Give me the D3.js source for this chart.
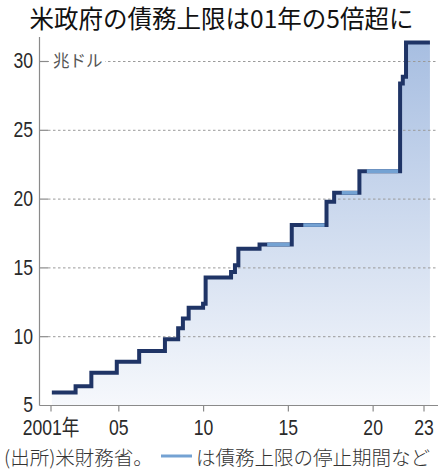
<!DOCTYPE html>
<html><head><meta charset="utf-8">
<script src="https://cdn.jsdelivr.net/npm/d3@7"></script>
<style>
html,body{margin:0;padding:0;background:#fff;}
svg{display:block;}
</style></head>
<body>
<svg id="c" width="443" height="474"></svg>
<script>
// ---- data (trillion dollars) ----
const stepYears  = [2001.05, 2002.45, 2003.38, 2004.88, 2006.2, 2007.72, 2008.5, 2008.78, 2009.12, 2009.97, 2010.12, 2011.62, 2011.85, 2012.05, 2013.3, 2015.2, 2017.25, 2017.7, 2019.19, 2021.59, 2021.75, 2021.94];
const stepLimits = [5.95, 6.4, 7.384, 8.184, 8.965, 9.815, 10.615, 11.315, 12.104, 12.394, 14.294, 14.694, 15.194, 16.394, 16.699, 18.113, 19.809, 20.456, 22.03, 28.4, 28.9, 31.381];
const endYear = 2023.35;
const pauseStart = [2013.75, 2015.88, 2018.15, 2019.63];
const pauseEnd   = [2015.2, 2017.25, 2019.19, 2021.59];
const yTicks = [5, 10, 15, 20, 25, 30];
const xTicks = [2001, 2005, 2010, 2015, 2020, 2023];
const xTickLabels = ["2001年", "05", "10", "15", "20", "23"];
const titleText = "米政府の債務上限は01年の5倍超に";
const unitText = "兆ドル";
const sourceText = "(出所)米財務省。";
const legendText = "は債務上限の停止期間など";

const svg = d3.select("#c");
const x = d3.scaleLinear().domain([2001, 2023]).range([51, 424]);
const y = d3.scaleLinear().domain([5, 30]).range([405.5, 61.5]);
const numFont = "'Liberation Sans',Arial,sans-serif";
const jpFont = "'Noto Sans CJK JP','Noto Sans',sans-serif";
const dark = "#1f3466", light = "#74a2d3", axisCol = "#8a8a8a";
const xLeft = 39.5, xRight = 438;
const squeeze = 0.8;

// gradient
const defs = svg.append("defs");
const g = defs.append("linearGradient").attr("id","fillg").attr("gradientUnits","userSpaceOnUse")
  .attr("x1",0).attr("x2",0).attr("y1",y(31.4)).attr("y2",y(5));
g.append("stop").attr("offset",0).attr("stop-color","#a7bee1");
g.append("stop").attr("offset",1).attr("stop-color","#f6f8fc");

// points
const pts = stepYears.map((yr,i)=>[yr, stepLimits[i]]);
pts.push([endYear, stepLimits[stepLimits.length-1]]);

// area
svg.append("path").datum(pts)
  .attr("d", d3.area().curve(d3.curveStepAfter).x(d=>x(d[0])).y0(y(5)).y1(d=>y(d[1])))
  .attr("fill","url(#fillg)");

// y axis gridlines
yTicks.filter(t=>t>5).forEach(t=>{
  svg.append("line").attr("x1",48).attr("x2",xRight).attr("y1",y(t)).attr("y2",y(t))
    .attr("stroke","#9a9a9a").attr("stroke-width",1).attr("stroke-dasharray","2.5,2.5");
  svg.append("line").attr("x1",xLeft).attr("x2",48).attr("y1",y(t)).attr("y2",y(t))
    .attr("stroke",axisCol).attr("stroke-width",1.2);
});
// y axis line
svg.append("line").attr("x1",xLeft).attr("x2",xLeft).attr("y1",37).attr("y2",y(5))
  .attr("stroke",axisCol).attr("stroke-width",1.2);
// x axis line
svg.append("line").attr("x1",xLeft).attr("x2",xRight).attr("y1",y(5)).attr("y2",y(5))
  .attr("stroke",axisCol).attr("stroke-width",1.2);
// x ticks
xTicks.forEach((t,i)=>{
  svg.append("line").attr("x1",x(t)).attr("x2",x(t)).attr("y1",y(5)).attr("y2",y(5)+6)
    .attr("stroke",axisCol).attr("stroke-width",1.2);
  svg.append("text").attr("transform",`translate(${x(t)},435) scale(${squeeze},1)`).attr("text-anchor","middle")
    .attr("font-family", numFont+","+jpFont).attr("font-size",22).attr("fill","#2a2a2a")
    .text(xTickLabels[i]);
});
// y labels
yTicks.forEach(t=>{
  svg.append("text").attr("transform",`translate(33,${y(t)-1}) scale(${squeeze},1)`).attr("dy","0.36em").attr("text-anchor","end")
    .attr("font-family",numFont).attr("font-size",22).attr("fill","#2a2a2a").text(t);
});
// unit label
svg.append("rect").attr("x",49).attr("y",y(30)-10).attr("width",56).attr("height",20).attr("fill","#fff");
svg.append("text").attr("x",53).attr("y",y(30)).attr("dy","0.36em")
  .attr("font-family",jpFont).attr("font-size",16.5).attr("fill","#555").text(unitText);

// step line
svg.append("path").datum(pts)
  .attr("d", d3.line().curve(d3.curveStepAfter).x(d=>x(d[0])).y(d=>y(d[1])))
  .attr("fill","none").attr("stroke",dark).attr("stroke-width",4).attr("stroke-linejoin","miter");

// pause segments
function levelAt(yr){ const i = d3.bisectRight(stepYears, yr) - 1; return stepLimits[Math.max(0,i)]; }
pauseStart.forEach((s,i)=>{
  const v = levelAt(s + 0.001);
  svg.append("line").attr("x1",x(s)).attr("x2",x(pauseEnd[i])-2).attr("y1",y(v)).attr("y2",y(v))
    .attr("stroke",light).attr("stroke-width",3.6);
});

// title
svg.append("text").attr("x",221.5).attr("y",28).attr("text-anchor","middle")
  .attr("font-family",jpFont).attr("font-weight",400).attr("font-size",24.5).attr("fill","#111")
  .text(titleText);

// source + legend
svg.append("text").attr("x",4).attr("y",465)
  .attr("font-family",jpFont).attr("font-size",19.5).attr("font-weight",300).attr("fill","#333").text(sourceText);
svg.append("line").attr("x1",161).attr("x2",192).attr("y1",456).attr("y2",456)
  .attr("stroke",light).attr("stroke-width",3);
svg.append("text").attr("x",196).attr("y",465)
  .attr("font-family",jpFont).attr("font-size",19.5).attr("font-weight",300).attr("fill","#333").text(legendText);
</script>
</body></html>
